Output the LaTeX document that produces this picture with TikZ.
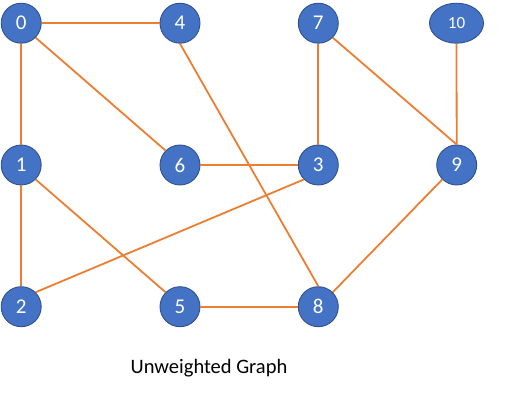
\documentclass[tikz,border=0pt]{standalone}
\usepackage{fontspec}
\setmainfont{Carlito}
\usetikzlibrary{shapes.geometric}
\definecolor{nodeblue}{HTML}{4472C4}
\definecolor{nodeedge}{HTML}{2F528F}
\definecolor{edgeorange}{HTML}{ED7D31}
\begin{document}
\begin{tikzpicture}[x=1pt,y=-1pt,
  vert/.style={circle,fill=nodeblue,draw=nodeedge,line width=0.9pt,minimum size=40pt,inner sep=0pt,text=white,font=\fontsize{21}{24}\selectfont},
  vertell/.style={ellipse,fill=nodeblue,draw=nodeedge,line width=0.9pt,minimum width=54pt,minimum height=40pt,inner sep=0pt,text=white,font=\fontsize{17}{20}\selectfont},
  link/.style={draw=edgeorange,line width=1.8pt,line cap=butt}]
\useasboundingbox (0,0) rectangle (528,412);
\node[vert] (n0) at (21.2,23.2) {0};
\node[vert] (n4) at (180,23.2) {4};
\node[vert] (n7) at (318.3,23.2) {7};
\node[vertell] (n10) at (456.5,23.2) {10};
\node[vert] (n1) at (21.2,165) {1};
\node[vert] (n6) at (180,165) {6};
\node[vert] (n3) at (318.3,165) {3};
\node[vert] (n9) at (456.7,165) {9};
\node[vert] (n2) at (21.2,306.7) {2};
\node[vert] (n5) at (180,306.7) {5};
\node[vert] (n8) at (318.3,306.7) {8};
\node[anchor=base,font=\fontsize{20.5}{24}\selectfont,inner sep=0pt] (cap) at (209,373) {Unweighted Graph};
\draw[link] (n0.east) -- (n4.west);
\draw[link] (n0.south) -- (n1.north);
\draw[link] (n0.south east) -- (n6.north west);
\draw[link] (n4.south) -- (n8.north);
\draw[link] (n7.south) -- (n3.north);
\draw[link] (n7.south east) -- (n9.north);
\draw[link] (n10.south) -- (n9.north);
\draw[link] (n1.south) -- (n2.north);
\draw[link] (n1.south east) -- (n5.north west);
\draw[link] (n6.east) -- (n3.west);
\draw[link] (n3.south west) -- (n2.north east);
\draw[link] (n9.south west) -- (n8.north east);
\draw[link] (n5.east) -- (n8.west);
\end{tikzpicture}
\end{document}
